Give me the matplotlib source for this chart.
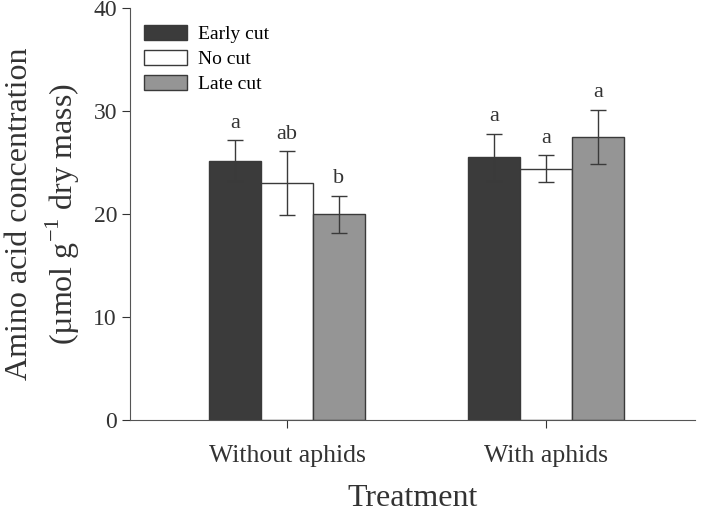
import numpy as np
import matplotlib
matplotlib.use("Agg")
import matplotlib.pyplot as plt

plt.rcParams['font.family'] = ['Liberation Serif', 'DejaVu Serif']
plt.rcParams['mathtext.fontset'] = 'custom'
plt.rcParams['mathtext.rm'] = 'Liberation Serif'

groups = ["Without aphids", "With aphids"]
series = ["Early cut", "No cut", "Late cut"]
means = {
    "Early cut": [25.2, 25.5],
    "No cut": [23.0, 24.4],
    "Late cut": [20.0, 27.5],
}
errs = {
    "Early cut": [2.0, 2.3],
    "No cut": [3.1, 1.3],
    "Late cut": [1.8, 2.65],
}
letters = {
    "Early cut": ["a", "a"],
    "No cut": ["ab", "a"],
    "Late cut": ["b", "a"],
}
colors = {"Early cut": "#3b3b3b", "No cut": "#ffffff", "Late cut": "#959595"}

fig = plt.figure(figsize=(7.04, 5.14), dpi=100)
ax = fig.add_axes([0.185, 0.183, 0.802, 0.801])

x = np.array([1, 2])
w = 0.2
for i, s in enumerate(series):
    xs = x + (i - 1) * w
    ax.bar(xs, means[s], width=w, color=colors[s], edgecolor="#3a3a3a",
           linewidth=1.0, label=s, zorder=2)
    ax.errorbar(xs, means[s], yerr=errs[s], fmt="none", ecolor="#3a3a3a",
                elinewidth=1.0, capsize=6, capthick=1.0, zorder=3)
    for xx, m, e, t in zip(xs, means[s], errs[s], letters[s]):
        ax.text(xx, m + e + 1.2, t, ha="center", va="baseline", fontsize=16,
                color="#333333")

ax.set_xlim(0.394, 2.575)
ax.set_ylim(0, 40)
ax.set_xticks(x)
ax.set_xticklabels(groups, fontsize=18.5, color="#333333")
ax.set_yticks([0, 10, 20, 30, 40])
ax.tick_params(axis="y", labelsize=17, colors="#333333", direction="out", length=6)
ax.tick_params(axis="x", direction="out", length=6, pad=12, colors="#333333")
for sp in ["top", "right"]:
    ax.spines[sp].set_visible(False)
for sp in ["left", "bottom"]:
    ax.spines[sp].set_color("#555555")
ax.set_xlabel("Treatment", fontsize=23, color="#333333", labelpad=12)
ax.set_ylabel("Amino acid concentration\n(\u00b5mol g$^{-1}$ dry mass)", fontsize=23,
              color="#333333", labelpad=8, linespacing=1.35)

ax.legend(loc="upper left", frameon=False, fontsize=14, handlelength=2.2,
          handleheight=0.8, handletextpad=0.6, labelspacing=0.35,
          bbox_to_anchor=(0.0, 0.993), borderpad=0.0, borderaxespad=0.7)

fig.savefig("out.png", dpi=100)
